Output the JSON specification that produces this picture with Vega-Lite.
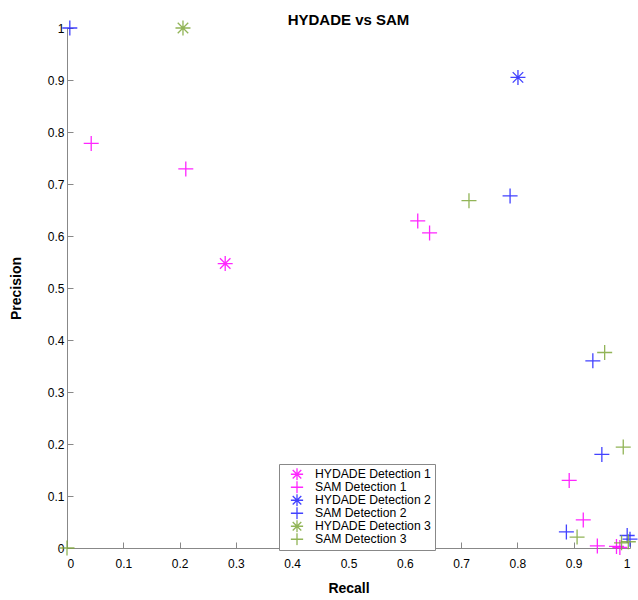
{
  "$schema": "https://vega.github.io/schema/vega-lite/v6.json",
  "width": 563,
  "height": 520,
  "autosize": "none",
  "padding": {"left": 67, "top": 28, "right": 8, "bottom": 52},
  "background": "white",
  "title": {"text": "HYDADE vs SAM", "font": "Liberation Sans", "fontSize": 15, "fontWeight": "bold", "color": "black", "anchor": "middle", "frame": "group", "offset": -10},
  "config": {
    "view": {"stroke": null},
    "axis": {"font": "Liberation Sans", "labelFont": "Liberation Sans", "titleFont": "Liberation Sans", "labelFontSize": 12, "labelColor": "black", "titleFontSize": 14, "titleFontWeight": "bold", "titleColor": "black", "domainColor": "#888888", "tickColor": "#888888", "grid": false}
  },
  "data": {
    "values": [
      {"recall": 0.281, "precision": 0.547, "series": "HYDADE Detection 1"},
      {"recall": 0.043, "precision": 0.778, "series": "SAM Detection 1"},
      {"recall": 0.211, "precision": 0.729, "series": "SAM Detection 1"},
      {"recall": 0.623, "precision": 0.629, "series": "SAM Detection 1"},
      {"recall": 0.644, "precision": 0.606, "series": "SAM Detection 1"},
      {"recall": 0.892, "precision": 0.130, "series": "SAM Detection 1"},
      {"recall": 0.917, "precision": 0.054, "series": "SAM Detection 1"},
      {"recall": 0.942, "precision": 0.004, "series": "SAM Detection 1"},
      {"recall": 0.976, "precision": 0.003, "series": "SAM Detection 1"},
      {"recall": 0.982, "precision": 0.001, "series": "SAM Detection 1"},
      {"recall": 0.801, "precision": 0.905, "series": "HYDADE Detection 2"},
      {"recall": 0.005, "precision": 1.0, "series": "SAM Detection 2"},
      {"recall": 0.787, "precision": 0.677, "series": "SAM Detection 2"},
      {"recall": 0.934, "precision": 0.360, "series": "SAM Detection 2"},
      {"recall": 0.950, "precision": 0.180, "series": "SAM Detection 2"},
      {"recall": 0.887, "precision": 0.031, "series": "SAM Detection 2"},
      {"recall": 0.995, "precision": 0.024, "series": "SAM Detection 2"},
      {"recall": 1.0, "precision": 0.017, "series": "SAM Detection 2"},
      {"recall": 0.206, "precision": 1.0, "series": "HYDADE Detection 3"},
      {"recall": 0.0, "precision": 0.0, "series": "SAM Detection 3"},
      {"recall": 0.714, "precision": 0.668, "series": "SAM Detection 3"},
      {"recall": 0.955, "precision": 0.376, "series": "SAM Detection 3"},
      {"recall": 0.988, "precision": 0.194, "series": "SAM Detection 3"},
      {"recall": 0.906, "precision": 0.021, "series": "SAM Detection 3"},
      {"recall": 0.985, "precision": 0.010, "series": "SAM Detection 3"},
      {"recall": 0.997, "precision": 0.012, "series": "SAM Detection 3"}
    ]
  },
  "mark": {"type": "point", "filled": false, "strokeWidth": 1.3, "size": 225, "opacity": 0.85},
  "encoding": {
    "x": {"field": "recall", "type": "quantitative", "title": "Recall", "scale": {"domain": [0, 1], "nice": false, "zero": false},
      "axis": {"values": [0, 0.1, 0.2, 0.3, 0.4, 0.5, 0.6, 0.7, 0.8, 0.9, 1], "format": "~g", "tickSize": -6, "labelPadding": 16, "titlePadding": 12}},
    "y": {"field": "precision", "type": "quantitative", "title": "Precision", "scale": {"domain": [0, 1], "nice": false, "zero": false},
      "axis": {"values": [0, 0.1, 0.2, 0.3, 0.4, 0.5, 0.6, 0.7, 0.8, 0.9, 1], "format": "~g", "tickSize": -6, "labelPadding": 9, "titlePadding": 24}},
    "color": {"field": "series", "type": "nominal",
      "scale": {"domain": ["HYDADE Detection 1", "SAM Detection 1", "HYDADE Detection 2", "SAM Detection 2", "HYDADE Detection 3", "SAM Detection 3"],
        "range": ["#ff00ff", "#ff00ff", "#2222ff", "#2222ff", "#7fa83a", "#7fa83a"]},
      "legend": {"title": null, "orient": "none", "legendX": 212, "legendY": 436, "strokeColor": "#888888", "fillColor": "white", "padding": 4, "labelFont": "Liberation Sans", "labelFontSize": 12.2, "labelColor": "black", "symbolSize": 150, "symbolStrokeWidth": 1.3, "rowPadding": 0, "clipHeight": 12.5, "symbolOffset": 7, "labelOffset": 11, "offset": 0,
        "encode": {"symbols": {"update": {"size": {"value": 150}}}}}},
    "shape": {"field": "series", "type": "nominal",
      "scale": {"domain": ["HYDADE Detection 1", "SAM Detection 1", "HYDADE Detection 2", "SAM Detection 2", "HYDADE Detection 3", "SAM Detection 3"],
        "range": ["M-1,0L1,0M0,-1L0,1M-0.7,-0.7L0.7,0.7M-0.7,0.7L0.7,-0.7", "M-1,0L1,0M0,-1L0,1", "M-1,0L1,0M0,-1L0,1M-0.7,-0.7L0.7,0.7M-0.7,0.7L0.7,-0.7", "M-1,0L1,0M0,-1L0,1", "M-1,0L1,0M0,-1L0,1M-0.7,-0.7L0.7,0.7M-0.7,0.7L0.7,-0.7", "M-1,0L1,0M0,-1L0,1"]}}
  }
}
